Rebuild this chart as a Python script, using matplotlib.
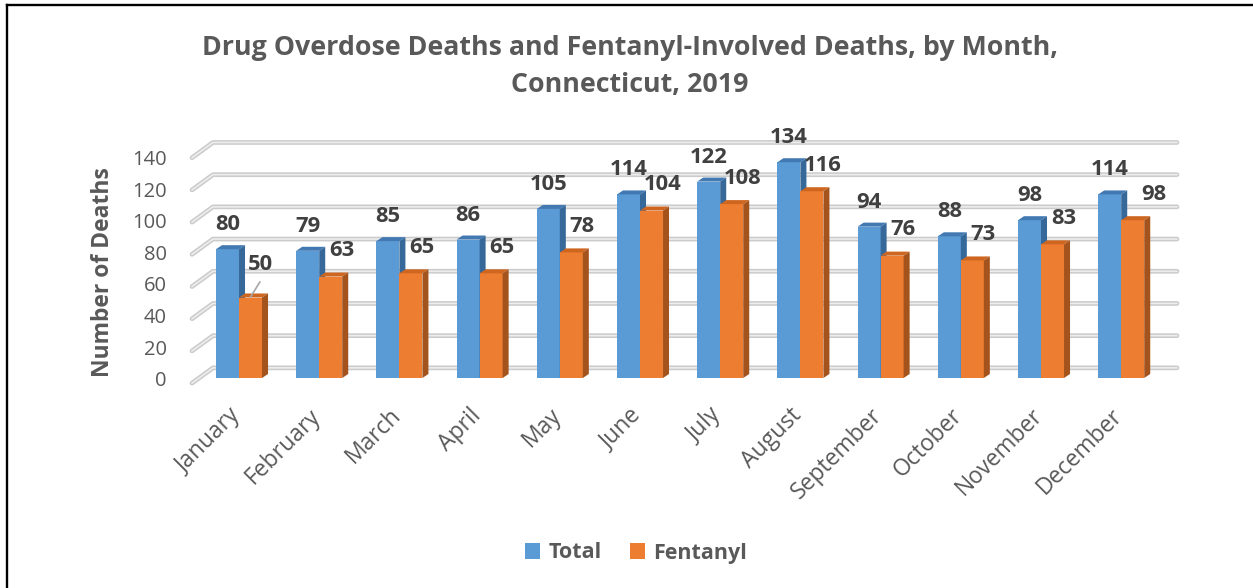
import matplotlib
matplotlib.use("Agg")
import matplotlib.pyplot as plt
from matplotlib.patches import Polygon, Rectangle
from matplotlib.lines import Line2D

# ---- data ----
months = ["January", "February", "March", "April", "May", "June", "July",
          "August", "September", "October", "November", "December"]
total = [80, 79, 85, 86, 105, 114, 122, 134, 94, 88, 98, 114]
fentanyl = [50, 63, 65, 65, 78, 104, 108, 116, 76, 73, 83, 98]
y_ticks = [0, 20, 40, 60, 80, 100, 120, 140]
series_names = ["Total", "Fentanyl"]
title = "Drug Overdose Deaths and Fentanyl-Involved Deaths, by Month,\nConnecticut, 2019"
y_title = "Number of Deaths"

# ---- style ----
plt.rcParams["font.family"] = ["Open Sans", "DejaVu Sans"]
TEXT = "#595959"
LABEL = "#404040"
BLUE = ("#5B9BD5", "#4279B2", "#36689A")      # front, top, side
ORANGE = ("#ED7D31", "#CF6620", "#A5531C")

W, H = 1253, 588
fig = plt.figure(figsize=(W / 100, H / 100), dpi=100)
ax = fig.add_axes([0, 0, 1, 1])

# pixel geometry of the pseudo-3D plot
CAT_PX, UNIT_PX, X0, Y0 = 80.2, 1.61, 239, 378
ax.set_xlim(-X0 / CAT_PX, (W - X0) / CAT_PX)
ax.set_ylim((Y0 - H) / UNIT_PX, Y0 / UNIT_PX)
ax.axis("off")

BAR_W = 0.287          # width of each bar (category units)
DX, DY = 0.075, 2.5    # bar depth offset
WALL_BACK = 6.3        # back wall offset in value units
WALL_FRONT = -3.2      # front edge of side wall
X_SIDE0, X_SIDE1, X_END = -0.586, -0.324, 11.696

# hand-placed label nudge (category units) for the last fentanyl label
fent_nudge = {11: 0.12}


def wall_line(xs, ys):
    ax.add_line(Line2D(xs, ys, lw=3.4, color="#cbcbcb", solid_capstyle="round", zorder=1))
    ax.add_line(Line2D(xs, ys, lw=1.2, color="#ededed", solid_capstyle="round", zorder=1.1))


for v in y_ticks:
    wall_line([X_SIDE0, X_SIDE1, X_END], [v + WALL_FRONT, v + WALL_BACK, v + WALL_BACK])
    ax.text(-0.898, v * 0.98 - 1.9, str(v), ha="right", va="center",
            fontsize=14.5, color=TEXT)


def bar3d(x0, h, colors, z):
    front, top, side = colors
    ax.add_patch(Rectangle((x0, 0), BAR_W, h, facecolor=front, edgecolor="none", zorder=z))
    ax.add_patch(Polygon([(x0, h), (x0 + BAR_W, h), (x0 + BAR_W + DX, h + DY), (x0 + DX, h + DY)],
                         closed=True, facecolor=top, edgecolor="none", zorder=z))
    ax.add_patch(Polygon([(x0 + BAR_W, 0), (x0 + BAR_W + DX, DY), (x0 + BAR_W + DX, h + DY),
                          (x0 + BAR_W, h)], closed=True, facecolor=side, edgecolor="none", zorder=z))


lab = dict(ha="center", va="center", fontsize=15.8, fontweight="bold", color=LABEL, zorder=6)
for i, (t, f) in enumerate(zip(total, fentanyl)):
    bar3d(i - BAR_W, t, BLUE, 3)
    bar3d(i, f, ORANGE, 4)
    ax.text(i - BAR_W / 2, t + 15.2, str(t), **lab)
    if i == 0:
        ax.plot([i + 0.146, i + 0.26], [f + 0.5, f + 9.6], color="#a6a6a6", lw=1.2, zorder=5)
        ax.text(i + 0.27, f + 20.5, str(f), **lab)
    else:
        ax.text(i + BAR_W / 2 + 0.137 + fent_nudge.get(i, 0), f + 16, str(f), **lab)
    ax.text(i - 0.13, -16, months[i], rotation=45, rotation_mode="anchor",
            ha="right", va="top", fontsize=16.5, color=TEXT)

ax.text(-1.696, 66, y_title, rotation=90, ha="center", va="center",
        fontsize=16.5, fontweight="bold", color=TEXT)

fig.text(630 / W, 1 - 35 / H, title, ha="center", va="top", fontsize=19.3,
         fontweight="bold", color=TEXT, linespacing=1.55)

handles = [Rectangle((0, 0), 1, 1, facecolor=BLUE[0]), Rectangle((0, 0), 1, 1, facecolor=ORANGE[0])]
leg = fig.legend(handles, series_names, loc="center", bbox_to_anchor=(636 / W, 1 - 553 / H),
                 ncol=2, frameon=False, handlelength=0.7, handleheight=0.7,
                 handletextpad=0.4, columnspacing=1.3,
                 prop={"weight": "bold", "size": 15.5})
for txt in leg.get_texts():
    txt.set_color(TEXT)

# chart border (top and left edges)
fig.add_artist(Line2D([6.5 / W, 6.5 / W], [0, 1 - 5 / H], transform=fig.transFigure,
                      color="black", lw=1.7))
fig.add_artist(Line2D([6.5 / W, 1], [1 - 5 / H, 1 - 5 / H], transform=fig.transFigure,
                      color="black", lw=1.7))

fig.savefig("out.png", dpi=100)
